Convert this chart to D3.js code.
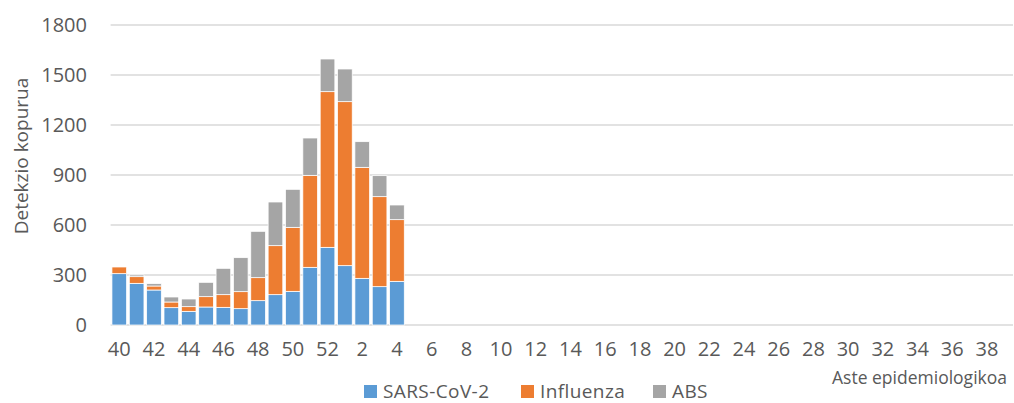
<!DOCTYPE html>
<html>
<head>
<meta charset="utf-8">
<script src="https://cdn.jsdelivr.net/npm/d3@7"></script>
<style>
  body { margin: 0; background: #fff; }
  svg { display: block; font-family: "Open Sans", sans-serif; }
</style>
</head>
<body>
<div id="chart"></div>
<script>
// Epidemiological weeks (season 40 -> 39)
const weeks = [40, 41, 42, 43, 44, 45, 46, 47, 48, 49, 50, 51, 52,
  1, 2, 3, 4, 5, 6, 7, 8, 9, 10, 11, 12, 13, 14, 15, 16, 17, 18, 19, 20,
  21, 22, 23, 24, 25, 26, 27, 28, 29, 30, 31, 32, 33, 34, 35, 36, 37, 38, 39];

// Detections per week (only weeks with data so far)
const sarsCov2 = [308, 250, 210, 104, 82, 108, 106, 98, 146, 182, 202, 346, 466, 356, 280, 230, 262];
const influenza = [40, 40, 24, 34, 28, 62, 76, 102, 138, 294, 384, 552, 934, 984, 666, 540, 370];
const abs = [0, 10, 14, 30, 46, 86, 158, 204, 278, 262, 228, 224, 196, 196, 154, 126, 88];

const yTicks = [0, 300, 600, 900, 1200, 1500, 1800];
const seriesNames = ["SARS-CoV-2", "Influenza", "ABS"];
const colors = ["#5B9BD5", "#ED7D31", "#A5A5A5"];

const width = 1014, height = 403;
const margin = { top: 25, right: 1, bottom: 78, left: 110.6 };

const svg = d3.select("#chart").append("svg")
  .attr("width", width)
  .attr("height", height);

const x = d3.scaleBand()
  .domain(weeks.map(String))
  .range([margin.left, width - margin.right])
  .paddingInner(0.155)
  .paddingOuter(0.0775);

const y = d3.scaleLinear()
  .domain([0, 1800])
  .range([height - margin.bottom, margin.top]);

// Gridlines
svg.append("g")
  .selectAll("line")
  .data(yTicks)
  .join("line")
  .attr("x1", margin.left)
  .attr("x2", width - margin.right)
  .attr("y1", d => y(d))
  .attr("y2", d => y(d))
  .attr("stroke", "#d9d9d9")
  .attr("stroke-width", 1.5);

// Stacked bars
const rows = sarsCov2.map((v, i) => ({
  week: String(weeks[i]),
  "SARS-CoV-2": v,
  "Influenza": influenza[i],
  "ABS": abs[i]
}));

const stacked = d3.stack().keys(seriesNames)(rows);

svg.append("g")
  .selectAll("g")
  .data(stacked)
  .join("g")
  .attr("fill", (d, i) => colors[i])
  .selectAll("rect")
  .data(d => d)
  .join("rect")
  .attr("x", d => x(d.data.week))
  .attr("width", x.bandwidth())
  .attr("y", d => y(d[1]))
  .attr("height", d => y(d[0]) - y(d[1]))
  .attr("stroke", "#fff")
  .attr("stroke-width", 0.75);

// Y tick labels
svg.append("g")
  .selectAll("text")
  .data(yTicks)
  .join("text")
  .attr("x", 87)
  .attr("y", d => y(d))
  .attr("dy", "0.35em")
  .attr("text-anchor", "end")
  .attr("fill", "#595959")
  .style("font-size", "20px")
  .text(d => d);

// X tick labels (every other week)
svg.append("g")
  .selectAll("text")
  .data(weeks.filter((d, i) => i % 2 === 0))
  .join("text")
  .attr("x", d => x(String(d)) + x.bandwidth() / 2)
  .attr("y", 349)
  .attr("dy", "0.35em")
  .attr("text-anchor", "middle")
  .attr("fill", "#595959")
  .style("font-size", "20px")
  .text(d => d);

// Axis titles
svg.append("text")
  .attr("transform", "translate(28,156) rotate(-90)")
  .attr("text-anchor", "middle")
  .attr("fill", "#595959")
  .style("font-size", "19px")
  .text("Detekzio kopurua");

svg.append("text")
  .attr("x", 1007)
  .attr("y", 384)
  .attr("text-anchor", "end")
  .attr("fill", "#595959")
  .style("font-size", "17.5px")
  .text("Aste epidemiologikoa");

// Legend
const legendX = [364, 521, 653];
const legend = svg.append("g")
  .selectAll("g")
  .data(seriesNames)
  .join("g")
  .attr("transform", (d, i) => `translate(${legendX[i]},385)`);

legend.append("rect")
  .attr("width", 13)
  .attr("height", 13)
  .attr("fill", (d, i) => colors[i]);

legend.append("text")
  .attr("x", 19)
  .attr("y", 12.5)
  .attr("fill", "#595959")
  .style("font-size", "19px")
  .style("letter-spacing", "0.4px")
  .text(d => d);
</script>
</body>
</html>
